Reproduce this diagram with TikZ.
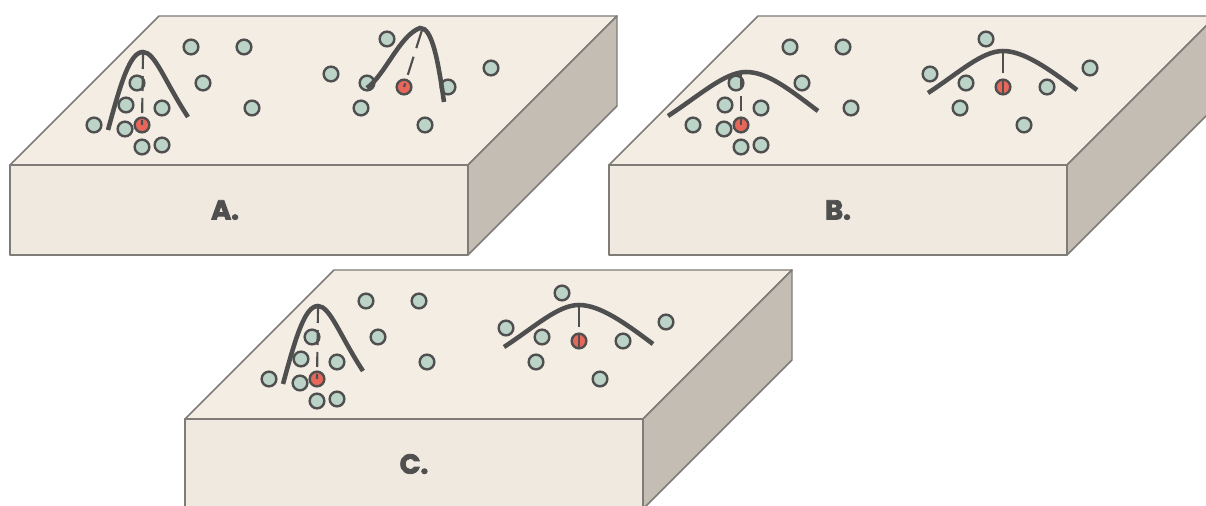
\documentclass[tikz,border=0pt]{standalone}
\usepackage{fontspec}
\newfontfamily\labelfont{Poppins}[FakeBold=3]
\definecolor{topface}{HTML}{F3EDE4}
\definecolor{frontface}{HTML}{F0E9DF}
\definecolor{sideface}{HTML}{C4BDB3}
\definecolor{edgegray}{HTML}{7F7B77}
\definecolor{dotfill}{HTML}{BCD3C8}
\definecolor{ink}{HTML}{4F4F4F}
\definecolor{hot}{HTML}{E8675B}
\tikzset{
  slabedge/.style={draw=edgegray, line width=1.1pt, line join=round},
  sample/.style={draw=ink, fill=dotfill, line width=1.8pt},
  target/.style={draw=ink, fill=hot, line width=1.8pt},
  curveline/.style={draw=ink, line width=3.4pt, line cap=butt},
  peakline/.style={draw=ink, line width=1.6pt, line cap=butt},
  slablabel/.style={font=\labelfont\bfseries\fontsize{20.5}{20.5}\selectfont, text=ink, inner sep=0pt},
}
% a slab in its own frame: front face, top face, side face
\newcommand\slabshape{%
  \filldraw[slabedge, fill=topface] (10,165) -- (159,16) -- (617,16) -- (468,165) -- cycle;
  \filldraw[slabedge, fill=sideface] (468,165) -- (617,16) -- (617,106) -- (468,255) -- cycle;
  \filldraw[slabedge, fill=frontface] (10,165) rectangle (468,255);
}
% the sample points on the top face
\newcommand\samplepoints{%
  \foreach \p in {(191,47),(244,47),(137,83),(203,83),(126,105),(162,108),(252,108),
                  (94,125),(125,129),(142,147),(162,145),
                  (387,39),(331,74),(367,83),(448,87),(491,68),(361,108),(425,125)}
    {\filldraw[sample] \p circle[radius=5.5pt];}
  \filldraw[target] (142,125) circle[radius=5.5pt];
  \filldraw[target] (404,87) circle[radius=5.5pt];
}
% kernels
\newcommand\narrowleft{%
  \draw[curveline] (108,130) .. controls (121,82) and (130,52) .. (143,52)
                   .. controls (155,52) and (165,82) .. (188,117);
  \draw[peakline, dash pattern=on 11.25pt off 5.25pt] (143,54) -- (142,125);
}
\newcommand\wideleft{%
  \draw[curveline] (69,116) .. controls (101,95) and (126,72) .. (147,72)
                   .. controls (169,72) and (191,90) .. (219,111);
  \draw[peakline, dash pattern=on 11.25pt off 5.25pt] (142,74) -- (142,125);
}
\newcommand\skewright{%
  \draw[curveline] (367,88) .. controls (385,75) and (400,35) .. (420,28)
                   .. controls (432,27) and (438,60) .. (444,102);
  \draw[peakline, dash pattern=on 14.25pt off 6.75pt] (422,30) -- (404,87);
}
\newcommand\wideright{%
  \draw[curveline] (329,93) .. controls (361,72) and (383,51) .. (404,51)
                   .. controls (425,51) and (450,69) .. (478,90);
  \draw[peakline, dash pattern=on 15.75pt off 6pt] (404,52) -- (404,95);
}
\begin{document}
\begin{tikzpicture}[x=0.75pt, y=-0.75pt]
  \useasboundingbox (0,0) rectangle (1206,506);
  \clip (0,0) rectangle (1206,506);
  % slab A
  \begin{scope}
    \slabshape
    \samplepoints
    \narrowleft
    \skewright
    \node[slablabel] (labA) at (225,210) {A.};
  \end{scope}
  % slab B
  \begin{scope}[shift={(599,0)}]
    \slabshape
    \samplepoints
    \wideleft
    \wideright
    \node[slablabel] (labB) at (239,210) {B.};
  \end{scope}
  % slab C
  \begin{scope}[shift={(175,254)}]
    \slabshape
    \samplepoints
    \narrowleft
    \wideright
    \node[slablabel] (labC) at (239,210) {C.};
  \end{scope}
\end{tikzpicture}
\end{document}
